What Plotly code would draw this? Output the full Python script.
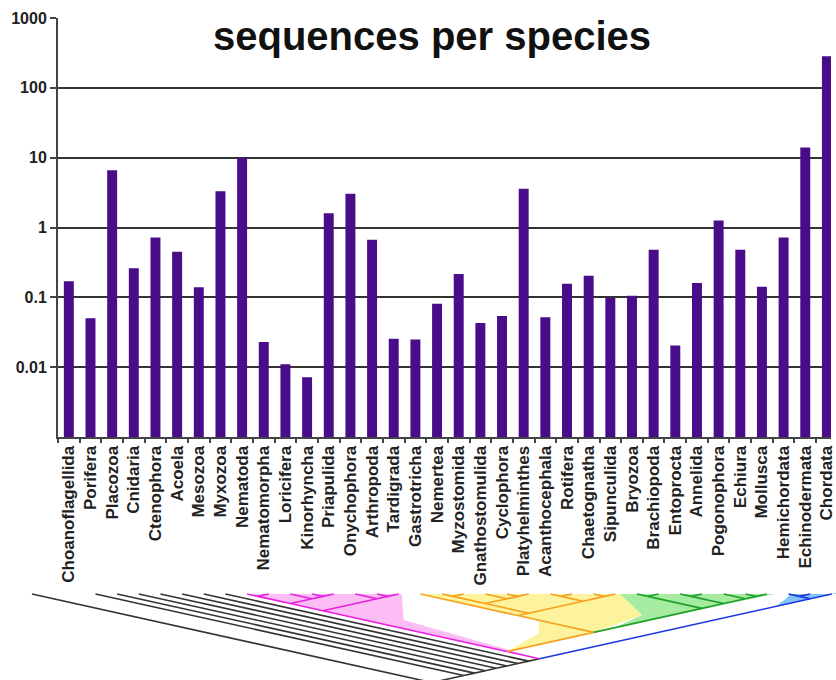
import plotly.graph_objects as go

# ---------------- data ----------------
categories = ["Choanoflagellida", "Porifera", "Placozoa", "Cnidaria", "Ctenophora", "Acoela",
              "Mesozoa", "Myxozoa", "Nematoda", "Nematomorpha", "Loricifera", "Kinorhyncha",
              "Priapulida", "Onychophora", "Arthropoda", "Tardigrada", "Gastrotricha", "Nemertea",
              "Myzostomida", "Gnathostomulida", "Cyclophora", "Platyhelminthes", "Acanthocephala",
              "Rotifera", "Chaetognatha", "Sipunculida", "Bryozoa", "Brachiopoda", "Entoprocta",
              "Annelida", "Pogonophora", "Echiura", "Mollusca", "Hemichordata", "Echinodermata",
              "Chordata"]
seq_per_species = [0.17, 0.05, 6.6, 0.26, 0.72, 0.45,
                   0.14, 3.3, 10.0, 0.023, 0.011, 0.0072,
                   1.6, 3.05, 0.67, 0.0255, 0.025, 0.081,
                   0.215, 0.043, 0.054, 3.6, 0.052,
                   0.157, 0.204, 0.099, 0.105, 0.48, 0.0205,
                   0.16, 1.26, 0.48, 0.142, 0.72, 14.0,
                   283.0]
y_tickvals = [0.01, 0.1, 1, 10, 100, 1000]
y_ticktext = ["0.01", "0.1", "1", "10", "100", "1000"]

# phylogeny drawn under the labels (leaves are category indices)
ecdysozoa = (((8, 9), (10, (11, 12))), (13, (14, 15)))
yellow_clade = (16, (((17, 18), (19, (20, 21))), ((22, 23), (24, 25))))
green_clade = ((26, 27), ((28, 29), (30, (31, 32))))
deuterostomia = ((33, 34), 35)
outgroup_offset = -1.7   # outgroup branch drawn further to the left

# ---------------- layout constants ----------------
W, H = 836, 680
ML, MR, MT, MB = 58, 0, 18, 243
PW, PH = W - ML - MR, H - MT - MB
CAT_PX = 21.8
xr = [-0.5, -0.5 + PW / CAT_PX]
BAR = "#4a0d8a"
FONT = "Liberation Sans, Arial, sans-serif"

fig = go.Figure()
fig.add_trace(go.Bar(x=categories, y=seq_per_species, marker_color=BAR,
                     marker_line_width=0, hoverinfo="x+y"))

# ---------------- tree geometry ----------------
def ix_px(i):
    return ML + (i - xr[0]) / (xr[1] - xr[0]) * PW

def to_paper(px, py):
    return (px - ML) / PW, (MT + PH - py) / PH

Y0 = 594.0
S = 0.22
LEAF_SHIFT = 0.23

def leaf_x(i):
    return ix_px(i + LEAF_SHIFT)

segments = []  # (color, x1, y1, x2, y2) in px

def span(node):
    if isinstance(node, int):
        return leaf_x(node), leaf_x(node)
    if isinstance(node, dict):
        return span(node["n"])
    xs = [span(c) for c in node]
    return min(a for a, b in xs), max(b for a, b in xs)

def pos(node):
    if isinstance(node, dict) and "pos" in node:
        return node["pos"]
    a, b = span(node)
    return ((a + b) / 2, Y0 + S * (b - a) / 2)

def draw(node, color):
    p = pos(node)
    if isinstance(node, int):
        return p
    if isinstance(node, dict):
        return draw(node["n"], node.get("c", color))
    for c in node:
        ccol = c.get("c", color) if isinstance(c, dict) else color
        cp = pos(c)
        segments.append((ccol, p[0], p[1], cp[0], cp[1]))
        draw(c, color if not isinstance(c, dict) else ccol)
    return p

MAG, ORA, GRN, BLU, BLK = "#e81ee0", "#f5a01e", "#1fa02a", "#1c36e0", "#333333"
spiralia = ({"n": yellow_clade, "c": ORA}, {"n": green_clade, "c": GRN})
protostomia = ({"n": ecdysozoa, "c": MAG}, {"n": spiralia, "c": ORA})
bilateria = ({"n": protostomia, "c": MAG}, {"n": deuterostomia, "c": BLU})
spine = bilateria
for i in range(7, 0, -1):
    spine = (i, spine)
out_x = ix_px(outgroup_offset)
root_inner = spine
a, b = span(root_inner)
root_pos = ((out_x + b) / 2, Y0 + S * (b - out_x) / 2)

segments.append((BLK, root_pos[0], root_pos[1], out_x, Y0))
ip = pos(root_inner)
segments.append((BLK, root_pos[0], root_pos[1], ip[0], ip[1]))
draw(root_inner, BLK)

# ---------------- coloured clade fills ----------------
def path(points):
    pts = [to_paper(x, y) for x, y in points]
    return "M " + " L ".join(f"{x:.5f},{y:.5f}" for x, y in pts) + " Z"

bil_p = pos(bilateria)
pro_p = pos(protostomia)
spi_p = pos(spiralia)
eL, eR = span(ecdysozoa)
yL, yR = span(yellow_clade)
gL, gR = span(green_clade)
dL, dR = span(deuterostomia)

pink_poly = [(eL, Y0), (eR + 3, Y0), (eR + 5, Y0 + 26), bil_p]
yel_c = (yR + 27, Y0 + 21)
yel_poly = [(yL, Y0), (yR + 5, Y0), yel_c, spi_p, pro_p,
            (pro_p[0] + 32, pro_p[1] - 18), (pro_p[0] + 32, Y0 + S * (pro_p[0] + 32 - yL))]
grn_poly = [(yR + 5, Y0), (gR + 8, Y0), (spi_p[0] + 20, spi_p[1] - S * 20), yel_c]
blue_right = W + 10
blu_poly = [(dL + 2, Y0), (blue_right, Y0),
            (blue_right, Y0 + S * (dR - blue_right)),
            (dL - 13, Y0 + S * (dR - (dL - 13))), (dL - 3, Y0 + 5)]

shapes = []
for poly, col in [(pink_poly, "#fbbdf3"), (yel_poly, "#fdf39c"),
                  (grn_poly, "#a6eca0"), (blu_poly, "#80c4f6")]:
    shapes.append(dict(type="path", xref="paper", yref="paper", path=path(poly),
                       fillcolor=col, line=dict(width=0), layer="above"))
for col, x1, y1, x2, y2 in segments:
    p1 = to_paper(x1, y1)
    p2 = to_paper(x2, y2)
    shapes.append(dict(type="line", xref="paper", yref="paper",
                       x0=p1[0], y0=p1[1], x1=p2[0], y1=p2[1],
                       line=dict(color=col, width=1.6), layer="above"))

fig.update_layout(
    width=W, height=H,
    margin=dict(l=ML, r=MR, t=MT, b=MB, pad=0),
    paper_bgcolor="white", plot_bgcolor="white",
    showlegend=False,
    bargap=0.54,
    font=dict(family=FONT, color="#222222"),
    shapes=shapes,
    xaxis=dict(type="category", range=xr, showgrid=False, showline=True,
               linecolor="#444444", linewidth=2, ticks="outside", tickson="boundaries",
               ticklen=4, tickcolor="#444444", tickwidth=1.5, tickangle=-90,
               tickfont=dict(family=FONT, size=17, color="#222222", weight="bold")),
    yaxis=dict(type="log", range=[-3, 3], tickvals=y_tickvals, ticktext=y_ticktext,
               showgrid=True, gridcolor="#333333", gridwidth=1.5, showline=True,
               linecolor="#444444", linewidth=2, ticks="outside", ticklen=6,
               tickcolor="#444444", tickwidth=1.5, zeroline=False,
               tickfont=dict(family=FONT, size=16, color="#222222", weight="bold")),
    annotations=[dict(text="sequences per species", xref="paper", yref="paper",
                      x=(434 - ML) / PW, y=(MT + PH - 36) / PH, xanchor="center",
                      yanchor="middle", showarrow=False,
                      font=dict(family=FONT, size=40, color="#111111", weight="bold"))],
)

fig.write_html("out.html", post_script="document.body.style.margin='0';",
               config={"displayModeBar": False})
